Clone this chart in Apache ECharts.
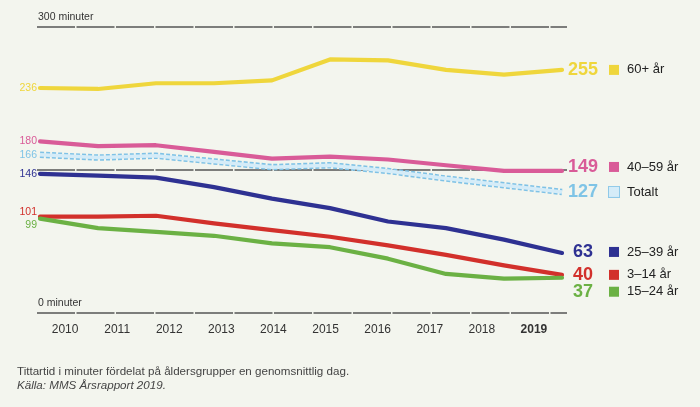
<!DOCTYPE html>
<html>
<head>
<meta charset="utf-8">
<script src="https://cdn.jsdelivr.net/npm/echarts@6/dist/echarts.min.js"></script>
<style>
  html, body { margin: 0; padding: 0; background: #f3f5ee; }
  #chart { width: 700px; height: 407px; }
</style>
</head>
<body>
<div id="chart"></div>
<script>
// år och tittartid (minuter per dag)
const years = [2010, 2011, 2012, 2013, 2014, 2015, 2016, 2017, 2018, 2019];
const yearLabels = ['2010', '2011', '2012', '2013', '2014', '2015', '2016', '2017', '2018', '2019'];
const plus60 = [236, 235, 241, 241, 244, 266, 265, 255, 250, 255];
const age4059 = [180, 175, 176, 169, 162, 164, 161, 155, 149, 149];
const totalt = [166, 163, 165, 159, 153, 155, 149, 141, 134, 127];
const age2539 = [146, 144, 142, 132, 120, 110, 96, 89, 77, 63];
const age314 = [101, 101, 102, 94, 87, 80, 71, 61, 50, 40];
const age1524 = [99, 89, 85, 81, 73, 69, 57, 41, 36, 37];
const yTickLabels = { 0: '0 minuter', 300: '300 minuter' };

const FONT = 'Liberation Sans, Arial, sans-serif';

let myChart = echarts.init(document.getElementById('chart'));

// punkter med etikett först (vänster) och sist (värde + förklaring)
function points(values, name, color, firstDy, lastDy, box) {
  return values.map(function (v, i) {
    let item = { value: [years[i], v] };
    if (i === 0) {
      item.label = {
        show: true, position: 'left', distance: 3,
        formatter: String(v), color: color, fontSize: 10.5,
        fontFamily: FONT, offset: [0, firstDy]
      };
    }
    if (i === values.length - 1) {
      item.label = {
        show: true, position: 'right', distance: 4, offset: [0, lastDy],
        formatter: '{v|' + v + '}{g|}{b|}{n|' + name + '}',
        rich: {
          v: { width: 34, align: 'right', fontSize: 18, fontWeight: 'bold', color: color, fontFamily: FONT },
          g: { width: 9 },
          b: { width: 10, height: 10, backgroundColor: box.fill, borderColor: box.border, borderWidth: box.bw },
          n: { fontSize: 13, color: '#222', padding: [0, 0, 0, 8], fontFamily: FONT }
        }
      };
    }
    return item;
  });
}

function line(name, values, color, firstDy, lastDy) {
  return {
    name: name, type: 'line', xAxisIndex: 0, yAxisIndex: 0,
    symbol: 'circle', symbolSize: 0, showSymbol: true, showAllSymbol: true, silent: true,
    itemStyle: { color: color },
    lineStyle: { color: color, width: 4.2, cap: 'round', join: 'round' },
    label: { show: false },
    data: points(values, name, color, firstDy, lastDy, { fill: color, border: color, bw: 0 })
  };
}

let option = {
  backgroundColor: '#f3f5ee',
  animation: false,
  textStyle: { fontFamily: FONT },
  grid: [
    { left: 37, width: 530, top: 27, height: 286 },
    { left: 39, width: 521, top: 27, height: 286 }
  ],
  xAxis: [
    { type: 'value', gridIndex: 0, min: 2010 - 3 / 58, max: 2019 + 5 / 58, show: false },
    {
      type: 'category', gridIndex: 1, data: yearLabels, boundaryGap: true,
      axisLine: { show: false }, axisTick: { show: false },
      axisLabel: {
        interval: 0, margin: 11, fontSize: 12, color: '#333', fontFamily: FONT,
        formatter: function (v) { return v === '2019' ? '{b|' + v + '}' : v; },
        rich: { b: { fontSize: 12, fontWeight: 'bold', color: '#333', fontFamily: FONT } }
      }
    }
  ],
  yAxis: [
    {
      type: 'value', gridIndex: 0, min: 0, max: 300, interval: 150,
      axisLine: { show: false }, axisTick: { show: false },
      axisLabel: {
        inside: true, margin: 1, verticalAlign: 'bottom', padding: [0, 0, 4, 0],
        fontSize: 10.5, color: '#333', fontFamily: FONT,
        formatter: function (v) { return yTickLabels[v] || ''; }
      },
      splitLine: { lineStyle: { color: '#555', width: 1.5, type: [38, 1.5] } }
    },
    { type: 'value', gridIndex: 1, min: 0, max: 300, show: false }
  ],
  series: [
    line('60+ år', plus60, '#efd63c', 0, 0),
    line('40–59 år', age4059, '#d95b98', 0, -4),
    {
      name: 'Totalt kant', type: 'line', symbol: 'none', silent: true,
      lineStyle: { color: '#7fc2e6', width: 6.5, type: [4, 2] },
      data: totalt.map(function (v, i) { return [years[i], v]; })
    },
    {
      name: 'Totalt', type: 'line', symbol: 'circle', symbolSize: 0, showSymbol: true, showAllSymbol: true, silent: true,
      itemStyle: { color: '#d5ecf8' },
      lineStyle: { color: '#d5ecf8', width: 3.5 },
      data: points(totalt, 'Totalt', '#7fc4e6', 0, 0, { fill: '#d5ecf8', border: '#8fc9e8', bw: 1 })
    },
    line('25–39 år', age2539, '#2e3192', 0, -1),
    line('3–14 år', age314, '#d2302b', -5, 0),
    line('15–24 år', age1524, '#6bb144', 6, 14)
  ],
  graphic: [
    {
      type: 'text', left: 17, top: 366,
      style: { text: 'Tittartid i minuter fördelat på åldersgrupper en genomsnittlig dag.', fontSize: 11.6, fill: '#444', fontFamily: FONT }
    },
    {
      type: 'text', left: 17, top: 380,
      style: { text: 'Källa: MMS Årsrapport 2019.', fontSize: 11.6, fontStyle: 'italic', fill: '#444', fontFamily: FONT }
    }
  ]
};
myChart.setOption(option);

window.addEventListener('resize', function () {
  myChart.resize();
});
</script>
</body>
</html>
